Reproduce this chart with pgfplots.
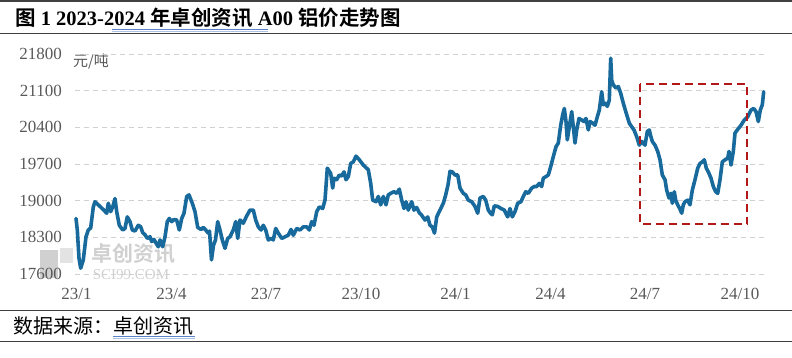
\documentclass[border=0pt]{standalone}
\usepackage{fontspec}
\usepackage{pgfplots}
\pgfplotsset{compat=1.18}
\setmainfont{Liberation Serif}
\newfontfamily\cjk{Noto Sans CJK SC}[BoldFont={Noto Sans CJK SC Bold}]
\definecolor{lineblue}{RGB}{24,106,156}
\definecolor{boxred}{RGB}{178,24,24}
\definecolor{tickgray}{RGB}{89,89,89}
\definecolor{rulegray}{RGB}{64,64,64}
\definecolor{ulblue}{RGB}{90,130,200}
\definecolor{wm}{RGB}{208,208,208}
\pgfplotstableread{
x y
76 18660
77.3 18440
79 17900
80.7 17710
83.3 17870
86 18310
88.3 18440
90.7 18480
93.3 18880
95 18980
98.3 18920
103.3 18830
106.7 18760
108.3 18950
110.7 18790
113 18900
115 19040
116.7 18790
119.3 18530
122.7 18440
125 18470
127.3 18690
130 18600
132.3 18440
135 18420
138.3 18530
140.7 18500
142.7 18390
145 18350
147.3 18280
150 18310
151.7 18220
154 18260
156 18190
158.3 18120
160 18250
162.7 18120
165 18310
167.3 18600
169.3 18660
171.7 18600
174 18640
176.7 18630
179.3 18440
181.7 18660
184 18760
186.7 19080
189 19110
192.3 18950
195 18790
197.7 18490
201 18450
203.3 18490
205.7 18440
208.3 18380
209.5 18420
211.5 17870
213.5 18150
215.5 18250
217.7 18600
220 18440
222.3 18250
225 18090
227.7 18280
230 18310
233.3 18440
235.7 18600
237.7 18280
240 18630
243.3 18570
246.5 18700
250 18820
253.3 18820
255.7 18630
258.3 18500
261 18440
263.3 18530
265.7 18440
268.3 18250
271 18280
273.3 18250
275.7 18470
278.3 18380
281.7 18280
285 18310
288.3 18340
291 18450
293.3 18340
296.7 18470
300 18440
303.3 18500
306.7 18500
309.3 18440
311.7 18600
314 18530
316.7 18790
319.3 18880
322.7 18850
325 19010
327.3 19620
330.7 19520
332.7 19240
334 19430
336.7 19400
339.3 19490
341.7 19470
344 19550
346 19400
348.3 19460
350.7 19710
353.3 19740
356 19850
359.3 19780
363.3 19680
368.3 19590
370.7 19330
372.7 19010
376 18980
378.3 19080
380.7 18920
383.3 19080
386 18920
388.3 19110
390.7 19140
394 19170
396.7 19140
399.3 19220
401.7 19010
404 18850
406 18980
408.3 18820
411.7 18980
414 18820
416.7 18870
419.5 18760
421 18740
425 18630
427.7 18690
430 18530
432.3 18500
434.5 18380
436.7 18690
440 18820
443.3 18950
445.7 19110
448 19300
450 19560
452.3 19550
455 19490
457.7 19490
460 19240
463.3 19140
465.7 19110
468.3 19010
471.7 18980
475 18890
477.7 18760
480 19050
483.3 19080
485.7 19010
488.3 18820
490.5 18760
492.3 18730
494.3 18900
497.7 18890
501 18850
504.3 18820
507.7 18690
510 18850
512.3 18690
515 18790
517.7 18950
521 18980
523.3 19080
525.7 19170
528.3 19140
531.7 19240
534.3 19270
536.7 19270
539.3 19330
541.7 19270
543.3 19430
546 19460
548.3 19490
550.7 19650
553.3 19840
556 20030
558.3 20100
560.7 20440
562.7 20640
564.3 20760
566 20510
567.3 20160
569.3 20410
571.7 20700
573.3 20410
575 20100
576.7 20350
579 20570
581.7 20540
584 20510
586 20570
588.3 20350
590 20510
592.7 20480
595 20440
597.3 20600
599.3 20730
601.7 21080
603.3 20830
605.3 20860
607.3 20800
609.3 20920
610.7 21720
611.7 21300
613.3 21210
616 21150
618.3 21180
620.7 21050
623.3 20860
626.7 20640
629.3 20480
631.7 20410
634 20350
636.7 20220
639.3 20060
641.7 20130
645 20060
647.3 20320
649.3 20350
650.5 20250
652.3 20130
655 20060
657.7 19940
660 19780
662.3 19490
665 19400
666.7 19200
669 19050
671 19140
672.3 18950
674.3 19170
675.7 19010
677.7 18920
679.7 18850
681.7 18760
683.3 18920
685 18980
687.7 19010
690 18920
692.3 19200
695 19400
697.7 19620
700 19710
702.3 19740
704.3 19780
706.3 19620
708.3 19550
711 19430
713.3 19270
715.7 19170
717.7 19140
720 19400
722.3 19740
725 19780
727.7 19810
729 19940
731 19680
733.3 19940
735 20290
737.7 20360
741 20440
744.3 20540
747.7 20600
751 20730
753.7 20760
756 20700
758.3 20510
760.3 20730
762.3 20830
763.7 21080
}\pricedata
\begin{document}
\begin{tikzpicture}[x=1pt,y=1pt]
\useasboundingbox (0,0) rectangle (792,358);
% rules
\draw[rulegray, line width=1.6pt] (0,357) -- (792,357);
\draw[rulegray, line width=1.6pt] (0,324.5) -- (792,324.5);
\draw[rulegray, line width=1.6pt] (0,47.5) -- (792,47.5);
\draw[rulegray, line width=1.6pt] (0,16.5) -- (792,16.5);
% title
\node[anchor=base west, inner sep=0pt] at (15,332) {\fontsize{20.5}{21}\selectfont\bfseries{\cjk 图} 1 2023-2024 {\cjk 年卓创资讯} A00 {\cjk 铝价走势图}};
\draw[ulblue, line width=0.8pt] (112,328.8) -- (268,328.8);
\draw[ulblue!50, line width=0.8pt] (112,327.0) -- (268,327.0);
% source
\node[anchor=base west, inner sep=0pt] at (13,24) {\fontsize{20}{20}\selectfont\cjk 数据来源：卓创资讯};
\draw[ulblue, line width=0.8pt] (113,21.5) -- (195,21.5);
\draw[ulblue!50, line width=0.8pt] (113,19.8) -- (195,19.8);
% watermark
\fill[wm] (40,80) rectangle (58,108);
\fill[wm!60] (60,95) rectangle (73,110);
\node[anchor=center, inner sep=0pt, text=wm] at (133,104) {\fontsize{21}{21}\selectfont\cjk\bfseries 卓创资讯};
\node[anchor=center, inner sep=0pt, text=wm] at (131,83) {\fontsize{15}{15}\selectfont SCI99.COM};
% unit
\node[anchor=center, inner sep=0pt, text=tickgray] at (91,296) {\fontsize{15}{15}\selectfont\cjk 元/吨};
\begin{axis}[
  at={(75pt,84pt)}, anchor=south west, scale only axis,
  width=690pt, height=220pt,
  xmin=75, xmax=765, ymin=17600, ymax=21800,
  axis line style={draw=none},
  major tick length=0pt, tick style={draw=none},
  ytick={17600,18300,19000,19700,20400,21100,21800},
  scaled y ticks=false,
  ymajorgrids,
  grid style={color=black!18, line width=0.9pt, dash pattern=on 5pt off 4pt},
  xtick={76.5,171.5,266,361,455.5,550.5,645,740},
  xticklabels={23/1,23/4,23/7,23/10,24/1,24/4,24/7,24/10},
  ticklabel style={font=\fontsize{17}{17}\selectfont, text=tickgray},
  yticklabel style={anchor=east, inner sep=0pt, xshift=-13pt},
  xticklabel style={anchor=base, inner sep=0pt, yshift=-26pt},
  clip=false,
  /pgf/number format/.cd, 1000 sep={}, fixed, precision=0, assume math mode=true,
]
\addplot[lineblue, line width=3.6pt, line join=round, line cap=round, mark=none] table[x=x,y=y] {\pricedata};
\draw[boxred, line width=2.2pt, dash pattern=on 8pt off 5pt] (axis cs:640,21222) rectangle (axis cs:747.3,18549);
\end{axis}
\end{tikzpicture}
\end{document}
